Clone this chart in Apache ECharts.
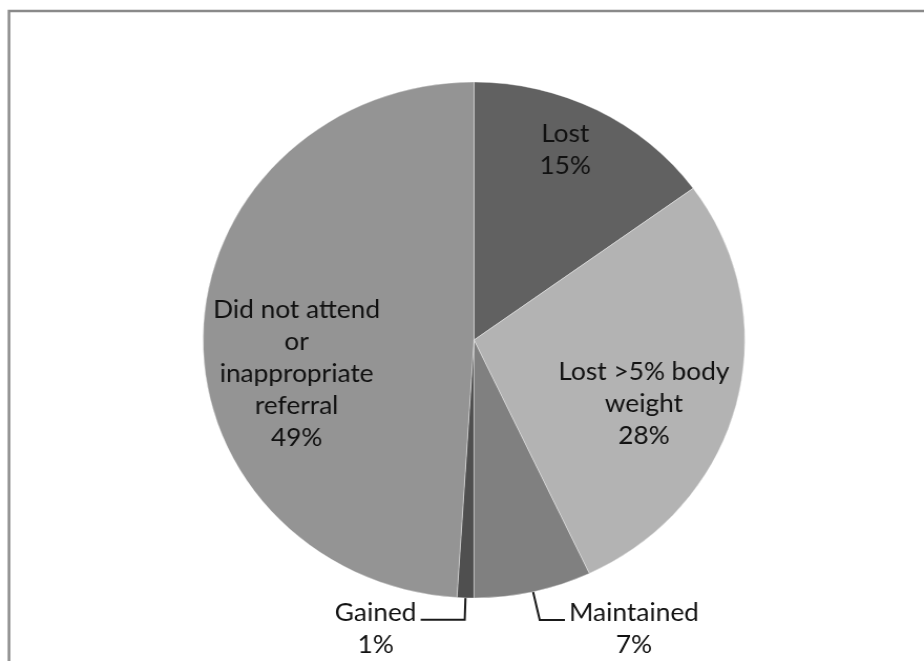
<!DOCTYPE html>
<html>
<head>
<meta charset="utf-8">
<script src="https://cdn.jsdelivr.net/npm/echarts@6/dist/echarts.min.js"></script>
<style>
  html, body { margin: 0; padding: 0; background: #fff; overflow: hidden; }
  #wrap { width: 924px; height: 661px; overflow: hidden; }
  /* the pie is drawn slightly wider than tall */
  #chart { width: 880px; height: 661px; transform: scaleX(1.05); transform-origin: 0 0; }
</style>
</head>
<body>
<div id="wrap"><div id="chart"></div></div>
<script>
// Outcome categories, clockwise from 12 o'clock
const categories = [
  'Lost',
  'Lost >5% body weight',
  'Maintained',
  'Gained',
  'Did not attend or inappropriate referral'
];
// Share of patients, percent
const percentages = [15, 28, 7, 1, 49];
// Wrapped label text for each slice
const labelLines = [
  ['Lost'],
  ['Lost >5% body', 'weight'],
  ['Maintained'],
  ['Gained'],
  ['Did not attend', 'or', 'inappropriate', 'referral']
];

const sliceColors = ['#616161', '#b3b3b3', '#808080', '#4f4f4f', '#949494'];

// label placement per slice: inside labels get a nudge, outside ones a leader line
const labelPlacement = [
  { inside: true, offset: [27, -72] },
  { inside: true, offset: [34, 31] },
  { inside: false, length: 29, length2: 24 },
  { inside: false, length: 22, length2: 42 },
  { inside: true, offset: [-37, 38] }
];

const textStyle = { fontFamily: 'Lato', fontSize: 25, lineHeight: 32, color: '#111', align: 'center' };

const data = categories.map((name, i) => {
  const p = labelPlacement[i];
  const item = {
    name: name,
    value: percentages[i],
    itemStyle: { color: sliceColors[i] }
  };
  if (p.inside) {
    item.label = { position: 'inside', offset: p.offset };
    item.labelLine = { show: false };
  } else {
    item.label = { position: 'outside', padding: [18, 0, 0, 0] };
    item.labelLine = { show: true, length: p.length, length2: p.length2 };
  }
  return item;
});

const chart = echarts.init(document.getElementById('chart'), null, { renderer: 'canvas' });
chart.setOption({
  animation: false,
  graphic: [{
    type: 'rect',
    shape: { x: 9 / 1.05, y: 11, width: 3000, height: 3000 },
    style: { fill: 'none', stroke: '#8a8a8a', lineWidth: 2.5 },
    silent: true
  }],
  series: [{
    type: 'pie',
    center: [451.4, 340],
    radius: 258,
    startAngle: 90,
    clockwise: true,
    avoidLabelOverlap: false,
    itemStyle: { borderColor: 'rgba(255,255,255,0.45)', borderWidth: 0.8 },
    label: {
      formatter: function (params) {
        const i = params.dataIndex;
        return labelLines[i].concat([percentages[i] + '%'])
          .map(t => '{t|' + t + '}').join('\n');
      },
      rich: { t: textStyle },
      distanceToLabelLine: 4
    },
    labelLine: { lineStyle: { color: '#1a1a1a', width: 2 }, smooth: false },
    emphasis: { disabled: true },
    data: data
  }]
});
</script>
</body>
</html>
